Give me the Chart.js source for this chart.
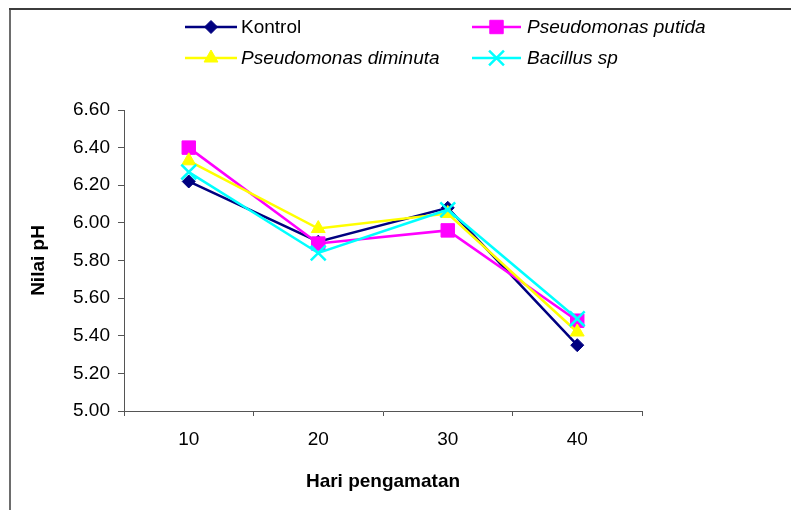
<!DOCTYPE html>
<html>
<head>
<meta charset="utf-8">
<title>Nilai pH</title>
<script src="https://cdn.jsdelivr.net/npm/chart.js@4/dist/chart.umd.min.js"></script>
<style>
  html, body { margin: 0; padding: 0; background: #ffffff; overflow: hidden; }
  #wrap { position: relative; width: 791px; height: 510px; }
</style>
</head>
<body>
<div id="wrap"><canvas id="chart"></canvas></div>
<script>
// Observation days (x categories)
const days = ['10', '20', '30', '40'];

// pH values per treatment
const kontrol = [6.22, 5.90, 6.08, 5.35];
const putida = [6.40, 5.89, 5.96, 5.48];
const diminuta = [6.33, 5.97, 6.05, 5.42];
const bacillus = [6.27, 5.84, 6.07, 5.49];

// Series names shown in the legend
const seriesNames = ['Kontrol', 'Pseudomonas putida', 'Pseudomonas diminuta', 'Bacillus sp'];

// y axis range and step
const yMin = 5.0;
const yMax = 6.6;
const yStep = 0.2;

const FONT = "'Liberation Sans', Arial, sans-serif";

function series(label, data, color, style, radius, order, italic) {
  return {
    label, data, order,
    borderColor: color,
    backgroundColor: color,
    borderWidth: 2.5,
    pointStyle: style,
    pointRadius: radius,
    pointBorderWidth: style === 'crossRot' ? 2.5 : 1,
    pointBorderColor: color,
    pointBackgroundColor: color,
    tension: 0,
    fill: false,
    clip: false,
    italic
  };
}

const datasets = [
  series(seriesNames[0], kontrol, '#000080', 'rectRot', 6.5, 4, false),
  series(seriesNames[1], putida, '#FF00FF', 'rect', 9.5, 3, true),
  series(seriesNames[2], diminuta, '#FFFF00', 'triangle', 8, 2, true),
  series(seriesNames[3], bacillus, '#00FFFF', 'crossRot', 10.5, 1, true)
];

// Outer frame lines along the top and left edge
const framePlugin = {
  id: 'frame',
  beforeDraw(chart) {
    const ctx = chart.ctx;
    ctx.save();
    ctx.fillStyle = '#ffffff';
    ctx.fillRect(0, 0, chart.width, chart.height);
    ctx.strokeStyle = '#3c3c3c';
    ctx.lineWidth = 2;
    ctx.beginPath();
    ctx.moveTo(9, 9);
    ctx.lineTo(chart.width, 9);
    ctx.stroke();
    ctx.lineWidth = 1.5;
    ctx.beginPath();
    ctx.moveTo(10, 9);
    ctx.lineTo(10, chart.height);
    ctx.stroke();
    ctx.restore();
  }
};

// Two-column legend: line segment with marker, then the series name
const legendPlugin = {
  id: 'gridLegend',
  afterDraw(chart) {
    const ctx = chart.ctx;
    const cols = [{ x0: 185, x1: 237, tx: 241 }, { x0: 472, x1: 521, tx: 527 }];
    const rows = [27, 58];
    const place = [[0, 0], [1, 0], [0, 1], [1, 1]];
    chart.data.datasets.forEach((ds, i) => {
      const c = cols[place[i][0]];
      const y = rows[place[i][1]];
      ctx.save();
      ctx.strokeStyle = ds.borderColor;
      ctx.lineWidth = ds.borderWidth;
      ctx.beginPath();
      ctx.moveTo(c.x0, y);
      ctx.lineTo(c.x1, y);
      ctx.stroke();
      ctx.fillStyle = ds.pointBackgroundColor;
      ctx.strokeStyle = ds.pointBorderColor;
      ctx.lineWidth = ds.pointBorderWidth;
      Chart.helpers.drawPoint(ctx, {
        pointStyle: ds.pointStyle,
        radius: ds.pointRadius,
        rotation: 0,
        borderWidth: ds.pointBorderWidth
      }, (c.x0 + c.x1) / 2, y);
      ctx.fillStyle = '#000000';
      ctx.font = (ds.italic ? 'italic ' : '') + '19px ' + FONT;
      ctx.textBaseline = 'middle';
      ctx.textAlign = 'left';
      ctx.fillText(ds.label, c.tx, y + 1);
      ctx.restore();
    });
  }
};

new Chart(document.getElementById('chart'), {
  type: 'line',
  data: { labels: days, datasets },
  plugins: [framePlugin, legendPlugin],
  options: {
    responsive: true,
    maintainAspectRatio: false,
    animation: false,
    events: [],
    layout: { padding: { left: 0, top: 110, right: 149, bottom: 0 } },
    plugins: {
      legend: { display: false },
      title: { display: false },
      tooltip: { enabled: false }
    },
    scales: {
      x: {
        type: 'category',
        offset: true,
        afterFit(scale) { scale.height = 99; },
        grid: {
          offset: true,
          drawOnChartArea: false,
          drawTicks: true,
          tickLength: 5,
          color: '#555555'
        },
        border: { display: true, color: '#555555', width: 1 },
        ticks: {
          color: '#000000',
          padding: 12,
          font: { family: FONT, size: 19 }
        },
        title: {
          display: true,
          text: 'Hari pengamatan',
          color: '#000000',
          padding: { top: 0, bottom: 17 },
          font: { family: FONT, size: 19, weight: 'bold' }
        }
      },
      y: {
        min: yMin,
        max: yMax,
        afterFit(scale) { scale.width = 124; },
        grid: {
          drawOnChartArea: false,
          drawTicks: true,
          tickLength: 6,
          color: '#555555'
        },
        border: { display: true, color: '#555555', width: 1 },
        ticks: {
          stepSize: yStep,
          color: '#000000',
          padding: 8,
          font: { family: FONT, size: 19 },
          callback: (v) => Number(v).toFixed(2)
        },
        title: {
          display: true,
          text: 'Nilai pH',
          color: '#000000',
          padding: { top: 27, bottom: 0 },
          font: { family: FONT, size: 19, weight: 'bold' }
        }
      }
    }
  }
});
</script>
</body>
</html>
